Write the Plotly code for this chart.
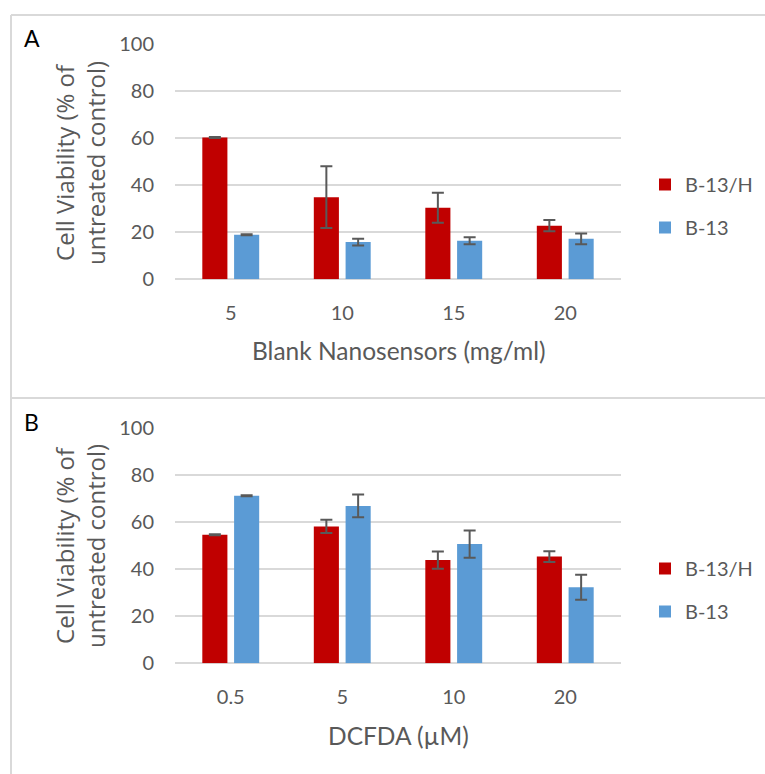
import plotly.graph_objects as go

# ---- data ----
cats_a = ["5", "10", "15", "20"]
b13h_a = [60.3, 34.9, 30.4, 22.8]
b13h_a_err = [0.2, 13.1, 6.4, 2.4]
b13_a = [18.9, 15.8, 16.4, 17.2]
b13_a_err = [0.2, 1.4, 1.5, 2.3]

cats_b = ["0.5", "5", "10", "20"]
b13h_b = [54.6, 58.1, 43.8, 45.3]
b13h_b_err = [0.2, 2.8, 3.7, 2.3]
b13_b = [71.1, 66.8, 50.6, 32.3]
b13_b_err = [0.2, 4.8, 5.8, 5.3]

series_names = ["B-13/H", "B-13"]
y_ticks = [0, 20, 40, 60, 80, 100]

W, H = 765, 774
RED = "#C00000"
BLUE = "#5B9BD5"
GRAY = "#595959"
GRID = "#D9D9D9"
TICKFONT = dict(family="Lato", size=20, color=GRAY)


def px(x):
    return x / W


def py(y):
    return 1 - y / H


def err(vals):
    return dict(type="data", array=vals, visible=True, color=GRAY, thickness=2, width=6)


fig = go.Figure()
fig.add_trace(go.Bar(x=cats_a, y=b13h_a, name=series_names[0], marker_color=RED,
                     error_y=err(b13h_a_err), xaxis="x", yaxis="y",
                     legend="legend", legendgroup="a1"))
fig.add_trace(go.Bar(x=cats_a, y=b13_a, name=series_names[1], marker_color=BLUE,
                     error_y=err(b13_a_err), xaxis="x", yaxis="y",
                     legend="legend", legendgroup="a2"))
fig.add_trace(go.Bar(x=cats_b, y=b13h_b, name=series_names[0], marker_color=RED,
                     error_y=err(b13h_b_err), xaxis="x2", yaxis="y2",
                     legend="legend2", legendgroup="b1"))
fig.add_trace(go.Bar(x=cats_b, y=b13_b, name=series_names[1], marker_color=BLUE,
                     error_y=err(b13_b_err), xaxis="x2", yaxis="y2",
                     legend="legend2", legendgroup="b2"))

xdom = [px(175), px(621)]
yaxis_common = dict(range=[0, 100], tickvals=y_ticks, showgrid=True, gridcolor=GRID,
                    gridwidth=1.5, zeroline=True, zerolinecolor=GRID, zerolinewidth=1.5,
                    showline=False, tickfont=TICKFONT, ticks="", ticklabelstandoff=20,
                    automargin=False)
xaxis_common = dict(type="category", showline=False, showgrid=False, ticks="",
                    tickfont=TICKFONT, ticklabelstandoff=20, automargin=False)

legend_common = dict(font=dict(family="Lato", size=20, color=GRAY), bgcolor="rgba(0,0,0,0)",
                     tracegroupgap=14, xanchor="left", yanchor="middle", itemwidth=30)

fig.update_layout(
    template="none",
    width=W, height=H, autosize=False,
    margin=dict(l=0, r=0, t=0, b=0, pad=0, autoexpand=False),
    paper_bgcolor="white", plot_bgcolor="white",
    barmode="group", bargap=0.43, bargroupgap=0.21,
    xaxis=dict(domain=xdom, anchor="y", **xaxis_common),
    yaxis=dict(domain=[py(279.3), py(44)], anchor="x", **yaxis_common),
    xaxis2=dict(domain=xdom, anchor="y2", **xaxis_common),
    yaxis2=dict(domain=[py(663.3), py(427.7)], anchor="x2", **yaxis_common),
    legend=dict(x=px(645), y=py(206), **legend_common),
    legend2=dict(x=px(645), y=py(590), **legend_common),
    showlegend=True,
)

# panel borders (top, left, divider); right and bottom edges lie outside the image
border = dict(color=GRID, width=2)
fig.add_shape(type="line", xref="paper", yref="paper", x0=px(11), x1=1,
              y0=py(15), y1=py(15), line=border, layer="below")
fig.add_shape(type="line", xref="paper", yref="paper", x0=px(11), x1=1,
              y0=py(398), y1=py(398), line=border, layer="below")
fig.add_shape(type="line", xref="paper", yref="paper", x0=px(11), x1=px(11),
              y0=0, y1=py(15), line=border, layer="below")

annots = [
    dict(text="A", x=px(22), y=py(38), xanchor="left", yanchor="middle",
         font=dict(family="Lato", size=23, color="black")),
    dict(text="B", x=px(22), y=py(422), xanchor="left", yanchor="middle",
         font=dict(family="Lato", size=23, color="black")),
    dict(text="Blank Nanosensors (mg/ml)", x=px(398.5), y=py(350), xanchor="center",
         yanchor="middle", font=dict(family="Lato", size=24.5, color=GRAY)),
    dict(text="DCFDA (µM)", x=px(398.5), y=py(735), xanchor="center",
         yanchor="middle", font=dict(family="Lato", size=24.5, color=GRAY)),
    dict(text="Cell Viability (% of<br>untreated control)", x=px(80), y=py(163),
         xanchor="center", yanchor="middle", textangle=-90,
         font=dict(family="Open Sans", size=24, color=GRAY)),
    dict(text="Cell Viability (% of<br>untreated control)", x=px(80), y=py(546),
         xanchor="center", yanchor="middle", textangle=-90,
         font=dict(family="Open Sans", size=24, color=GRAY)),
]
for a in annots:
    fig.add_annotation(xref="paper", yref="paper", showarrow=False, **a)

fig.write_html("out.html", config={"displayModeBar": False},
               post_script="document.body.style.margin='0';document.body.style.overflow='hidden';")
